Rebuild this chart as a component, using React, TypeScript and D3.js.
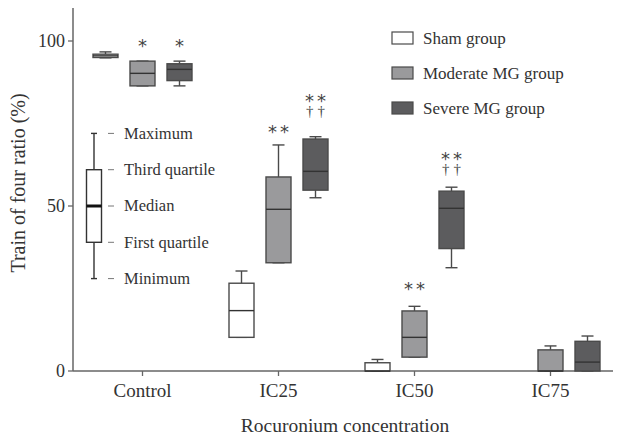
import React from "react";
import * as d3 from "d3";

const categories = ["Control", "IC25", "IC50", "IC75"];
const groups = ["Sham group", "Moderate MG group", "Severe MG group"];

// [min, q1, median, q3, max] per category
const shamStats = [
  [94.9, 95.0, 95.5, 96.0, 96.7],
  [10.2, 10.2, 18.3, 26.6, 30.3],
  [0, 0, 0, 2.5, 3.5],
  [0, 0, 0, 0, 0],
];
const moderateStats = [
  [86.4, 86.4, 90.2, 93.9, 93.9],
  [32.8, 32.8, 49.0, 58.8, 68.5],
  [4.2, 4.2, 10.2, 18.2, 19.6],
  [0, 0, 0, 6.4, 7.6],
];
const severeStats = [
  [86.4, 88.0, 91.4, 93.1, 93.9],
  [52.5, 54.8, 60.5, 70.3, 71.0],
  [31.3, 37.1, 49.3, 54.5, 55.7],
  [0, 0, 2.7, 9.0, 10.6],
];

// significance marks: category, group, label, y value of mark centre
const marks: [string, string, string, number][] = [
  ["Control", "Moderate MG group", "*", 99.7],
  ["Control", "Severe MG group", "*", 99.7],
  ["IC25", "Moderate MG group", "**", 73.6],
  ["IC25", "Severe MG group", "**", 83.0],
  ["IC25", "Severe MG group", "††", 78.6],
  ["IC50", "Moderate MG group", "**", 26.0],
  ["IC50", "Severe MG group", "**", 65.5],
  ["IC50", "Severe MG group", "††", 61.0],
];

const yTicks = [0, 50, 100];

// key diagram
const keyValues = [28, 39, 50, 61, 72];
const keyLabels = ["Minimum", "First quartile", "Median", "Third quartile", "Maximum"];

const fills = ["#ffffff", "#9a9a9c", "#5c5c5e"];
const FONT = "'Liberation Serif', 'Times New Roman', serif";
const TEXT = "#333";
const AXIS = "#666";

export default function App() {
  const W = 618, H = 443;
  const x = d3.scaleBand<string>().domain(categories).range([74.5, 618.5]);
  const g = d3.scaleBand<string>().domain(groups).range([-55.5, 55.5]);
  const y = d3.scaleLinear().domain([0, 110]).range([371, 8]);
  const bw = 25;
  const cap = 12;
  const allStats = [shamStats, moderateStats, severeStats];
  const cx = (c: string, grp: string) => (x(c) as number) + x.bandwidth() / 2 + (g(grp) as number) + g.bandwidth() / 2;

  const keyX = 94;
  const keyW = 15;

  const markGroups = d3.groups(marks, (m) => m[0] + "|" + m[1]);

  return (
    <svg width={W} height={H} style={{ position: "absolute", left: 0, top: 0, background: "#fff" }} fontFamily={FONT}>
      {/* axes */}
      <line x1={73} x2={73} y1={y(110)} y2={y(0)} stroke={AXIS} strokeWidth={1.5} />
      <line x1={73} x2={613} y1={y(0)} y2={y(0)} stroke={AXIS} strokeWidth={1.5} />
      {yTicks.map((t) => (
        <g key={t}>
          <line x1={68} x2={73} y1={y(t)} y2={y(t)} stroke={AXIS} strokeWidth={1.3} />
          <text x={65} y={y(t)} dy="0.35em" textAnchor="end" fontSize={18} fill={TEXT}>{t}</text>
        </g>
      ))}
      {categories.map((c) => {
        const xc = (x(c) as number) + x.bandwidth() / 2;
        return (
          <g key={c}>
            <line x1={xc} x2={xc} y1={y(0)} y2={y(0) + 5} stroke={AXIS} strokeWidth={1.3} />
            <text x={xc} y={397} textAnchor="middle" fontSize={19} fill={TEXT}>{c}</text>
          </g>
        );
      })}
      <text x={345} y={432} textAnchor="middle" fontSize={19.5} fill={TEXT}>Rocuronium concentration</text>
      <text transform={`translate(25,183) rotate(-90)`} textAnchor="middle" fontSize={20} fill={TEXT}>Train of four ratio (%)</text>

      {/* boxes */}
      {groups.map((grp, gi) =>
        categories.map((c, ci) => {
          const [mn, q1, md, q3, mx] = allStats[gi][ci];
          if (mx === 0) return null;
          const xc = cx(c, grp);
          return (
            <g key={grp + c} stroke="#4a4a4a" strokeWidth={1.4}>
              <line x1={xc} x2={xc} y1={y(mx)} y2={y(q3)} />
              <line x1={xc} x2={xc} y1={y(q1)} y2={y(mn)} />
              <line x1={xc - cap / 2} x2={xc + cap / 2} y1={y(mx)} y2={y(mx)} />
              <line x1={xc - cap / 2} x2={xc + cap / 2} y1={y(mn)} y2={y(mn)} />
              <rect x={xc - bw / 2} y={y(q3)} width={bw} height={y(q1) - y(q3)} fill={fills[gi]} />
              <line x1={xc - bw / 2} x2={xc + bw / 2} y1={y(md)} y2={y(md)} stroke="#333" />
            </g>
          );
        })
      )}

      {/* significance marks (stacked marks share one text element) */}
      {markGroups.map(([key, ms]) => (
        <text key={key} textAnchor="middle" fill="#444">
          {ms.map(([c, grp, lab, v], i) => {
            const star = lab.startsWith("*");
            const ls = lab.length > 1 ? (star ? 3 : 4) : 0;
            return (
              <tspan key={i} x={cx(c, grp) + ls / 2} y={y(v)} dy={star ? "0.55em" : "0.27em"}
                fontSize={star ? 18 : 15} fontFamily={star ? "'DejaVu Sans', sans-serif" : FONT} letterSpacing={ls}>
                {lab}
              </tspan>
            );
          })}
        </text>
      ))}

      {/* key diagram */}
      <g stroke="#333" strokeWidth={1.4}>
        <line x1={keyX} x2={keyX} y1={y(keyValues[4])} y2={y(keyValues[3])} />
        <line x1={keyX} x2={keyX} y1={y(keyValues[1])} y2={y(keyValues[0])} />
        <line x1={keyX - 3} x2={keyX + 3} y1={y(keyValues[4])} y2={y(keyValues[4])} />
        <line x1={keyX - 3} x2={keyX + 3} y1={y(keyValues[0])} y2={y(keyValues[0])} />
        <rect x={keyX - keyW / 2} y={y(keyValues[3])} width={keyW} height={y(keyValues[1]) - y(keyValues[3])} fill="#fff" />
        <line x1={keyX - keyW / 2} x2={keyX + keyW / 2} y1={y(keyValues[2])} y2={y(keyValues[2])} strokeWidth={3} stroke="#111" />
      </g>
      {keyValues.map((v, i) => (
        <g key={v}>
          <line x1={108} x2={114} y1={y(v)} y2={y(v)} stroke="#777" strokeWidth={1} />
          <text x={124} y={y(v)} dy="0.33em" fontSize={16.5} fill={TEXT}>{keyLabels[i]}</text>
        </g>
      ))}

      {/* legend */}
      {groups.map((grp, i) => (
        <g key={grp} transform={`translate(392,${38 + i * 35})`}>
          <rect x={0} y={-6} width={21} height={12} fill={fills[i]} stroke="#4a4a4a" strokeWidth={1.2} />
          <text x={31} y={0} dy="0.33em" fontSize={17} fill={TEXT}>{grp}</text>
        </g>
      ))}
    </svg>
  );
}
